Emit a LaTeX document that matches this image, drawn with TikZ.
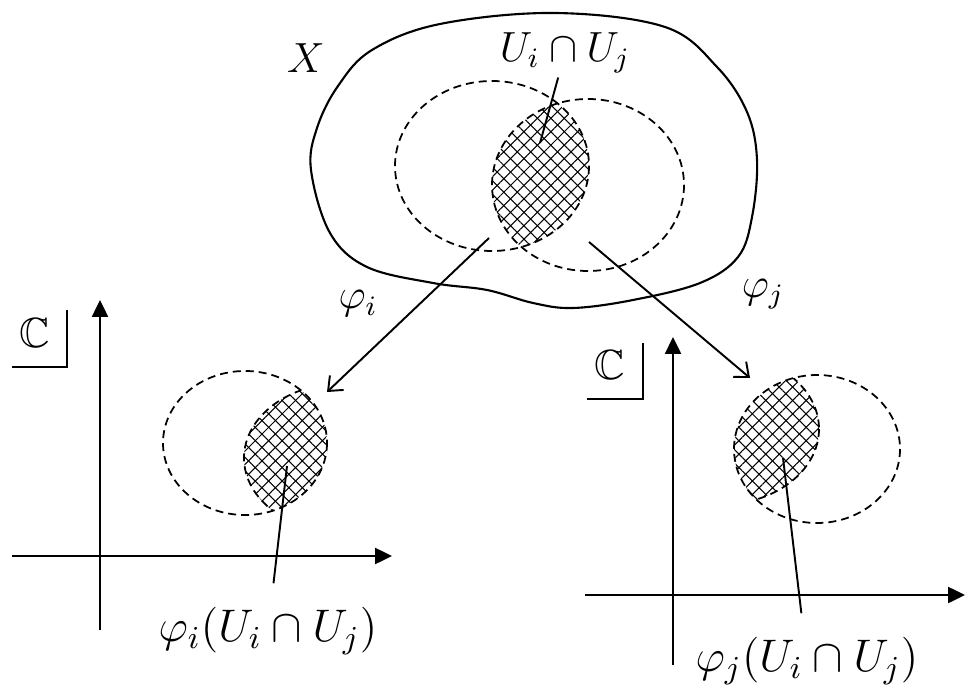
\RequirePackage{fix-cm}
\documentclass[tikz,border=0pt]{standalone}
\usepackage{amssymb}
\usetikzlibrary{arrows.meta,patterns.meta,calc}

\begin{document}
\begin{tikzpicture}[
  x=0.1mm, y=-0.1mm,
  lab/.style={font=\fontsize{12}{14}\selectfont, inner sep=1pt},
  biglab/.style={font=\fontsize{13}{15}\selectfont, inner sep=1pt},
  rim/.style={line width=0.6pt},
  chart/.style={dash pattern=on 0.8mm off 0.5mm, line width=0.5pt},
  mapto/.style={-{Straight Barb[length=1.2mm, width=2mm]}, line width=0.55pt},
  axis/.style={-{Triangle[length=1.7mm, width=1.6mm]}, line width=0.7pt},
  hatchA/.style={pattern={Lines[angle=45, distance=0.95mm, line width=0.3pt]}},
  hatchB/.style={pattern={Lines[angle=-45, distance=0.95mm, line width=0.3pt]}},
  pointer/.style={line width=0.55pt}
]
\useasboundingbox (0,0) rectangle (976,696);

% the surface X
\draw[rim] plot[smooth cycle, tension=0.6] coordinates {
  (317,128) (338,86) (372,50) (440,24) (555,13) (665,27) (717,67)
  (747,112) (757,160) (752,217) (738,257) (700,283) (633,300)
  (573,308) (533,303) (487,290) (433,283) (367,267) (330,233) (311,170)};
\node[lab] (X) at (306,58) {$X$};

% U_i, U_j and their overlap
\begin{scope}
  \clip (492,166) ellipse [x radius=97, y radius=85];
  \fill[hatchA] (588,185) ellipse [x radius=96, y radius=86];
  \fill[hatchB] (588,185) ellipse [x radius=96, y radius=86];
\end{scope}
\draw[chart] (492,166) ellipse [x radius=97, y radius=85];
\draw[chart] (588,185) ellipse [x radius=96, y radius=86];

\node[lab] (uij) at (565,53) {$U_i\cap U_j$};
\coordinate (uijp) at (540,143);
\draw[pointer] (uijp) -- (uij);

% charts
\coordinate (fi0) at (489,238);
\coordinate (fi1) at (327,392);
\coordinate (fj0) at (589,242);
\coordinate (fj1) at (750,378);
\draw[mapto] (fi0) -- (fi1);
\draw[mapto] (fj0) -- (fj1);
\node[lab] (phii) at (358,304) {$\varphi_i$};
\node[lab] (phij) at (763,294) {$\varphi_j$};

% left plane
\coordinate (lx0) at (12,556);
\coordinate (lx1) at (392,556);
\coordinate (ly0) at (100,630);
\coordinate (ly1) at (100,300);
\draw[axis] (lx0) -- (lx1);
\draw[axis] (ly0) -- (ly1);
\node[lab] (cl) at (35,333) {$\mathbb{C}$};
\draw[line width=0.7pt] ($(cl)+(32,-23)$) |- ($(cl)+(-23,34)$);

\begin{scope}
  \clip (245,443) ellipse [x radius=82, y radius=72];
  \fill[hatchA] (344,458) ellipse [x radius=100, y radius=75];
  \fill[hatchB] (344,458) ellipse [x radius=100, y radius=75];
  \draw[chart] (344,458) ellipse [x radius=100, y radius=75];
\end{scope}
\draw[chart] (245,443) ellipse [x radius=82, y radius=72];

\node[biglab] (li) at (268,631) {$\varphi_i(U_i\cap U_j)$};
\coordinate (lip) at (287,466);
\draw[pointer, shorten >=2mm] (lip) -- (li);

% right plane
\coordinate (rx0) at (585,595);
\coordinate (rx1) at (965,595);
\coordinate (ry0) at (673,665);
\coordinate (ry1) at (673,337);
\draw[axis] (rx0) -- (rx1);
\draw[axis] (ry0) -- (ry1);
\node[lab] (cr) at (610,365) {$\mathbb{C}$};
\draw[line width=0.7pt] ($(cr)+(33,-22)$) |- ($(cr)+(-23,34)$);

\begin{scope}
  \clip (817,449) ellipse [x radius=83, y radius=74];
  \fill[hatchA] (719,429) ellipse [x radius=100, y radius=76];
  \fill[hatchB] (719,429) ellipse [x radius=100, y radius=76];
  \draw[chart] (719,429) ellipse [x radius=100, y radius=76];
\end{scope}
\draw[chart] (817,449) ellipse [x radius=83, y radius=74];

\node[biglab] (rj) at (807,661) {$\varphi_j(U_i\cap U_j)$};
\coordinate (rjp) at (783,458);
\draw[pointer, shorten >=2mm] (rjp) -- (rj);
\end{tikzpicture}
\end{document}
